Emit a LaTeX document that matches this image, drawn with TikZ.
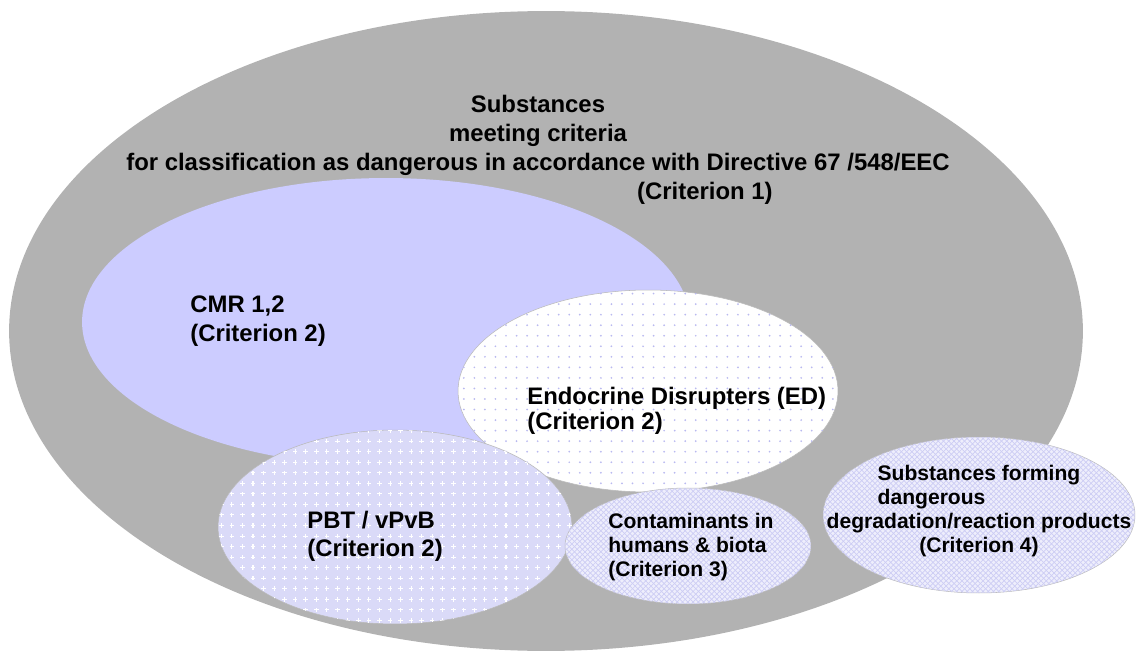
\documentclass[tikz,border=0pt]{standalone}
\usepackage{fontspec}
\setmainfont{Liberation Sans}
\usetikzlibrary{patterns}
\definecolor{outergray}{RGB}{178,178,178}
\definecolor{cmrblue}{RGB}{204,204,255}
\definecolor{dotblue}{RGB}{185,185,240}
\definecolor{plusbase}{RGB}{218,218,248}
\definecolor{hatchbase}{RGB}{238,238,252}
\definecolor{hatchline}{RGB}{205,205,244}
\pgfdeclarepatternformonly{sparsedots}{\pgfqpoint{-1pt}{-1pt}}{\pgfqpoint{6pt}{6pt}}{\pgfqpoint{6pt}{6pt}}%
  {\pgfpathcircle{\pgfqpoint{0pt}{0pt}}{0.55pt}\pgfusepath{fill}}
\pgfdeclarepatternformonly{smallplus}{\pgfqpoint{-2pt}{-2pt}}{\pgfqpoint{6pt}{6pt}}{\pgfqpoint{6pt}{6pt}}%
  {\pgfsetlinewidth{0.6pt}%
   \pgfpathmoveto{\pgfqpoint{-1.3pt}{0pt}}\pgfpathlineto{\pgfqpoint{1.3pt}{0pt}}%
   \pgfpathmoveto{\pgfqpoint{0pt}{-1.3pt}}\pgfpathlineto{\pgfqpoint{0pt}{1.3pt}}\pgfusepath{stroke}}
\pgfdeclarepatternformonly{diaghatch}{\pgfqpoint{-0.5pt}{-0.5pt}}{\pgfqpoint{3.5pt}{3.5pt}}{\pgfqpoint{3pt}{3pt}}%
  {\pgfsetlinewidth{0.4pt}%
   \pgfpathmoveto{\pgfqpoint{0pt}{0pt}}\pgfpathlineto{\pgfqpoint{3pt}{3pt}}%
   \pgfpathmoveto{\pgfqpoint{0pt}{3pt}}\pgfpathlineto{\pgfqpoint{3pt}{0pt}}\pgfusepath{stroke}}

\begin{document}
\begin{tikzpicture}[x=0.02cm, y=-0.02cm,
  big/.style={font=\fontsize{13.6}{16.5}\selectfont\bfseries, inner sep=0pt},
  small/.style={font=\fontsize{12}{13.8}\selectfont\bfseries, inner sep=0pt},
  rim/.style={draw=gray!55, line width=0.3pt}]
\useasboundingbox (0,0) rectangle (1137,652);
\foreach \name/\x/\y in {all/546/331, cmr/386/322, ed/648/391, pbt/395/527, cont/688/546, degr/979/515}
  \coordinate (\name) at (\x,\y);
% sets, back to front
\fill[outergray] (all) ellipse [x radius=10.74cm, y radius=6.4cm];
\fill[cmrblue] (cmr) ellipse [x radius=6.08cm, y radius=2.88cm];
\path[rim, fill=white, postaction={pattern=sparsedots, pattern color=dotblue}] (ed) ellipse [x radius=3.8cm, y radius=2.02cm];
\path[rim, fill=plusbase, postaction={pattern=smallplus, pattern color=white}] (pbt) ellipse [x radius=3.54cm, y radius=1.94cm];
\path[rim, fill=hatchbase, postaction={pattern=diaghatch, pattern color=hatchline}] (cont) ellipse [x radius=2.46cm, y radius=1.16cm];
\path[rim, fill=hatchbase, postaction={pattern=diaghatch, pattern color=hatchline}] (degr) ellipse [x radius=3.12cm, y radius=1.56cm];
% labels
\node[big, align=center] (crit1) at (538,150) {Substances\\meeting criteria\\for classification as dangerous in accordance with Directive 67 /548/EEC\\\hspace*{190pt}(Criterion 1)};
\node[big, align=left, anchor=west] (cmrtxt) at (190,321) {CMR 1,2\\(Criterion 2)};
\node[big, align=left, anchor=west, font=\fontsize{13.6}{14.4}\selectfont\bfseries] (edtxt) at (527,411) {Endocrine Disrupters (ED)\\(Criterion 2)};
\node[big, align=left, anchor=west, font=\fontsize{13.6}{16}\selectfont\bfseries] (pbttxt) at (307,536) {PBT / vPvB\\(Criterion 2)};
\node[small, align=left, anchor=west] (conttxt) at (608,547) {Contaminants in\\humans \& biota\\(Criterion 3)};
\node[small, align=center] (degrtxt) at (979,511) {Substances forming\\\rlap{dangerous}\phantom{Substances forming}\\degradation/reaction products\\(Criterion 4)};
\end{tikzpicture}
\end{document}
